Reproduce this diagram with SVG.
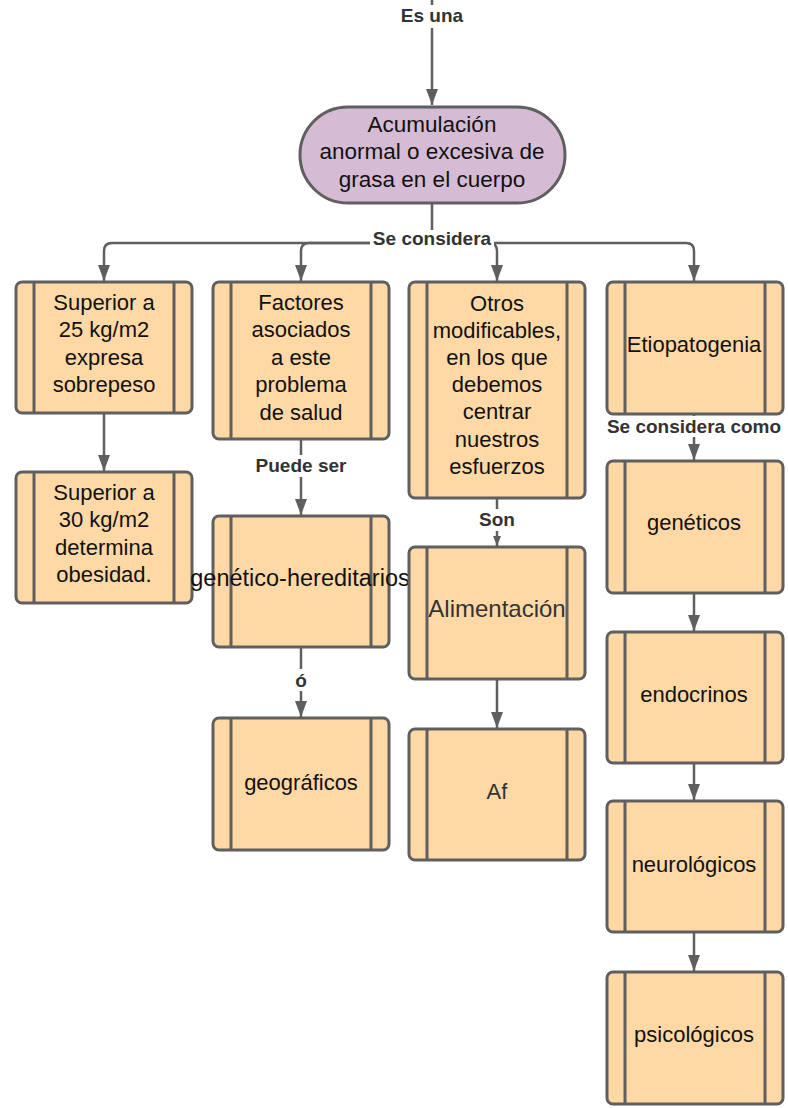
<svg xmlns="http://www.w3.org/2000/svg" width="788" height="1108" viewBox="0 0 788 1108">
<defs>
<style>
.box{fill:#FED9A6;stroke:#5f5f5f;stroke-width:3}
.bar{stroke:#5f5f5f;stroke-width:3}
.t{font-family:"Liberation Sans",Arial,sans-serif;font-size:22px;fill:#111;text-anchor:middle}
.tg{fill:#333}
.lbl{font-family:"Liberation Sans",Arial,sans-serif;font-size:19px;font-weight:bold;fill:#333;text-anchor:middle}
.c{fill:none;stroke:#5f5f5f;stroke-width:2.5}
.bg{fill:#fff}
</style>
<marker id="arr" viewBox="0 0 12 16" refX="6" refY="16" markerWidth="12" markerHeight="16" markerUnits="userSpaceOnUse" orient="0">
<path d="M0,0 L12,0 L6,16 z" fill="#5f5f5f"/>
</marker>
<marker id="arrs" viewBox="0 0 8 10" refX="4" refY="10" markerWidth="8" markerHeight="10" markerUnits="userSpaceOnUse" orient="0">
<path d="M0,0 L8,0 L4,10 z" fill="#5f5f5f"/>
</marker>
</defs>
<rect width="788" height="1108" fill="#fff"/>

<g id="connectors">
<path class="c" d="M432,0 V105" marker-end="url(#arr)"/>
<rect class="bg" x="396" y="5" width="72" height="23"/>
<text class="lbl" x="432" y="22">Es una</text>

<path class="c" d="M432,203 V243"/>
<path class="c" d="M432,243 H112 Q104,243 104,251 V281" marker-end="url(#arr)"/>
<path class="c" d="M432,243 H309 Q301,243 301,251 V281" marker-end="url(#arr)"/>
<path class="c" d="M432,243 H489 Q497,243 497,251 V281" marker-end="url(#arr)"/>
<path class="c" d="M432,243 H686 Q694,243 694,251 V281" marker-end="url(#arr)"/>
<rect class="bg" x="370" y="230" width="124" height="19"/>
<text class="lbl" x="432" y="245">Se considera</text>

<path class="c" d="M104,413 V471" marker-end="url(#arr)"/>

<path class="c" d="M301,439 V515" marker-end="url(#arr)"/>
<rect class="bg" x="250" y="455" width="102" height="22"/>
<text class="lbl" x="301" y="472">Puede ser</text>

<path class="c" d="M301,647 V717" marker-end="url(#arr)"/>
<rect class="bg" x="292" y="669" width="18" height="22"/>
<text class="lbl" x="301" y="687">ó</text>

<path class="c" d="M497,498 V546" marker-end="url(#arrs)"/>
<rect class="bg" x="476" y="509" width="42" height="22"/>
<text class="lbl" x="497" y="526">Son</text>

<path class="c" d="M497,679 V728" marker-end="url(#arr)"/>

<path class="c" d="M694,414 V460" marker-end="url(#arr)"/>
<rect class="bg" x="604" y="416" width="180" height="21"/>
<text class="lbl" x="694" y="433">Se considera como</text>

<path class="c" d="M694,593 V631" marker-end="url(#arr)"/>
<path class="c" d="M694,763 V800" marker-end="url(#arr)"/>
<path class="c" d="M694,932 V971" marker-end="url(#arr)"/>
</g>

<g id="n_root">
<rect x="300" y="107" width="265" height="96" rx="48" fill="#D5BCD4" stroke="#5f5f5f" stroke-width="3"/>
<text class="t" x="432" y="132" style="font-size:22.5px">Acumulación</text>
<text class="t" x="432" y="159" style="font-size:22.5px">anormal o excesiva de</text>
<text class="t" x="432" y="187" style="font-size:22.5px">grasa en el cuerpo</text>
</g>

<g id="n_a1">
<rect class="box" x="16" y="282" width="176" height="131" rx="6"/>
<path class="bar" d="M34,282 V413 M174,282 V413"/>
<text class="t" x="104" y="310">Superior a</text>
<text class="t" x="104" y="337">25 kg/m2</text>
<text class="t" x="104" y="365">expresa</text>
<text class="t" x="104" y="392">sobrepeso</text>
</g>

<g id="n_a2">
<rect class="box" x="16" y="472" width="176" height="131" rx="6"/>
<path class="bar" d="M34,472 V603 M174,472 V603"/>
<text class="t" x="104" y="500">Superior a</text>
<text class="t" x="104" y="527">30 kg/m2</text>
<text class="t" x="104" y="555">determina</text>
<text class="t" x="104" y="582">obesidad.</text>
</g>

<g id="n_b1">
<rect class="box" x="213" y="282" width="176" height="157" rx="6"/>
<path class="bar" d="M231,282 V439 M371,282 V439"/>
<text class="t" x="301" y="310">Factores</text>
<text class="t" x="301" y="337">asociados</text>
<text class="t" x="301" y="365">a este</text>
<text class="t" x="301" y="392">problema</text>
<text class="t" x="301" y="420">de salud</text>
</g>

<g id="n_b2">
<rect class="box" x="213" y="516" width="176" height="131" rx="6"/>
<path class="bar" d="M231,516 V647 M371,516 V647"/>
<text class="t" x="300" y="586" style="font-size:23.5px">genético-hereditarios</text>
</g>

<g id="n_b3">
<rect class="box" x="213" y="718" width="176" height="132" rx="6"/>
<path class="bar" d="M231,718 V850 M371,718 V850"/>
<text class="t" x="301" y="790">geográficos</text>
</g>

<g id="n_c1">
<rect class="box" x="409" y="282" width="176" height="216" rx="6"/>
<path class="bar" d="M427,282 V498 M567,282 V498"/>
<text class="t" x="497" y="311">Otros</text>
<text class="t" x="497" y="338">modificables,</text>
<text class="t" x="497" y="365">en los que</text>
<text class="t" x="497" y="392">debemos</text>
<text class="t" x="497" y="419">centrar</text>
<text class="t" x="497" y="447">nuestros</text>
<text class="t" x="497" y="474">esfuerzos</text>
</g>

<g id="n_c2">
<rect class="box" x="409" y="547" width="176" height="132" rx="6"/>
<path class="bar" d="M427,547 V679 M567,547 V679"/>
<text class="t tg" x="497" y="617" style="font-size:24px">Alimentación</text>
</g>

<g id="n_c3">
<rect class="box" x="409" y="729" width="176" height="131" rx="6"/>
<path class="bar" d="M427,729 V860 M567,729 V860"/>
<text class="t tg" x="497" y="799">Af</text>
</g>

<g id="n_d1">
<rect class="box" x="607" y="282" width="176" height="132" rx="6"/>
<path class="bar" d="M625,282 V414 M765,282 V414"/>
<text class="t" x="694" y="352">Etiopatogenia</text>
</g>

<g id="n_d2">
<rect class="box" x="607" y="461" width="176" height="132" rx="6"/>
<path class="bar" d="M625,461 V593 M765,461 V593"/>
<text class="t" x="694" y="530">genéticos</text>
</g>

<g id="n_d3">
<rect class="box" x="607" y="632" width="176" height="131" rx="6"/>
<path class="bar" d="M625,632 V763 M765,632 V763"/>
<text class="t" x="694" y="702">endocrinos</text>
</g>

<g id="n_d4">
<rect class="box" x="607" y="801" width="176" height="131" rx="6"/>
<path class="bar" d="M625,801 V932 M765,801 V932"/>
<text class="t" x="694" y="872">neurológicos</text>
</g>

<g id="n_d5">
<rect class="box" x="607" y="972" width="176" height="132" rx="6"/>
<path class="bar" d="M625,972 V1104 M765,972 V1104"/>
<text class="t" x="694" y="1042">psicológicos</text>
</g>
</svg>
